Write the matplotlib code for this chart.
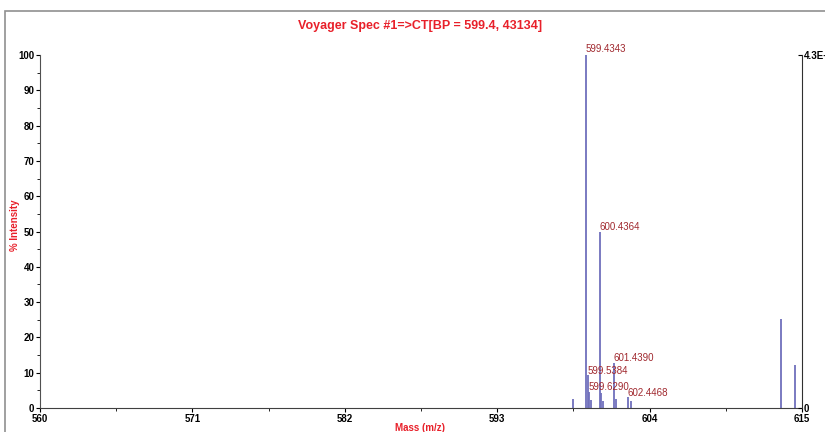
import matplotlib.pyplot as plt
from matplotlib.patches import Rectangle

plt.rcParams['font.family'] = ['Liberation Sans Narrow', 'Liberation Sans', 'DejaVu Sans']

# peak list
mz = [598.50, 599.4343, 599.5384, 599.6290, 599.78, 600.4364, 600.52, 600.62,
      601.4390, 601.54, 602.4468, 602.64, 613.48, 614.46]
intensity = [2.5, 100, 9.4, 4.6, 2.3, 50, 4.3, 2.0, 12.8, 2.5, 3.0, 2.0, 25.1, 12.2]

# labelled peaks and where the label sits (y in % intensity)
label_mz = [599.4343, 600.4364, 601.4390, 599.5384, 599.6290, 602.4468]
label_y = [100.2, 50.0, 12.8, 9.2, 4.6, 2.8]

x_ticks = [560, 571, 582, 593, 604, 615]
y_ticks = [0, 10, 20, 30, 40, 50, 60, 70, 80, 90, 100]
base_peak = 43134

red = '#e8202a'
label_red = '#a0282e'
bar_color = '#7070bc'

fig = plt.figure(figsize=(8.25, 4.32), dpi=100)
ax = fig.add_axes([40 / 825, 1 - 408 / 432, 762 / 825, 353 / 432])

# grey frame round the whole plot
fig.patches.append(Rectangle((5 / 825, -0.1), 1.0, 1 - 11 / 432 + 0.1,
                             transform=fig.transFigure, fill=False,
                             edgecolor='#909090', lw=1.2))

ax.vlines(mz, 0, intensity, color=bar_color, lw=1.3)

for m, y in zip(label_mz, label_y):
    ax.text(m - 0.05, y, f'{m:.4f}', color=label_red, fontsize=7,
            ha='left', va='bottom')

ax.set_xlim(560, 615)
ax.set_ylim(0, 100)
ax.set_xticks(x_ticks)
ax.set_xticks([565.5, 576.5, 587.5, 598.5, 609.5], minor=True)
ax.set_yticks(y_ticks)
ax.set_yticks([5, 15, 25, 35, 45, 55, 65, 75, 85, 95], minor=True)
ax.tick_params(labelsize=7, length=3, width=0.8, pad=1)
ax.tick_params(which='minor', length=2, width=0.6)
for lab in ax.get_xticklabels() + ax.get_yticklabels():
    lab.set_fontweight('bold')

ax.spines['top'].set_visible(False)
ax.spines['right'].set_visible(False)
ax.spines['left'].set_color('#505050')
ax.spines['bottom'].set_color('#404040')

# right axis in absolute counts
ax2 = ax.twinx()
ax2.set_ylim(0, base_peak)
ax2.set_yticks([0, base_peak])
ax2.set_yticklabels(['0', '4.3E+4'], fontsize=7, fontweight='bold')
ax2.tick_params(length=3, width=0.8, pad=1, direction='in')
ax2.spines['top'].set_visible(False)
ax2.spines['left'].set_visible(False)
ax2.spines['bottom'].set_visible(False)
ax2.spines['right'].set_color('#303030')

fig.text(420 / 825, 1 - 26 / 432, 'Voyager Spec #1=>CT[BP = 599.4, 43134]',
         color=red, fontsize=9, fontweight='bold', ha='center', va='center')
fig.text(15 / 825, 1 - 225 / 432, '% Intensity', color=red, fontsize=7,
         fontweight='bold', rotation=90, ha='center', va='center')
fig.text(420 / 825, 1 - 428 / 432, 'Mass (m/z)', color=red, fontsize=7,
         fontweight='bold', ha='center', va='center')

fig.savefig('out.png', dpi=100)
